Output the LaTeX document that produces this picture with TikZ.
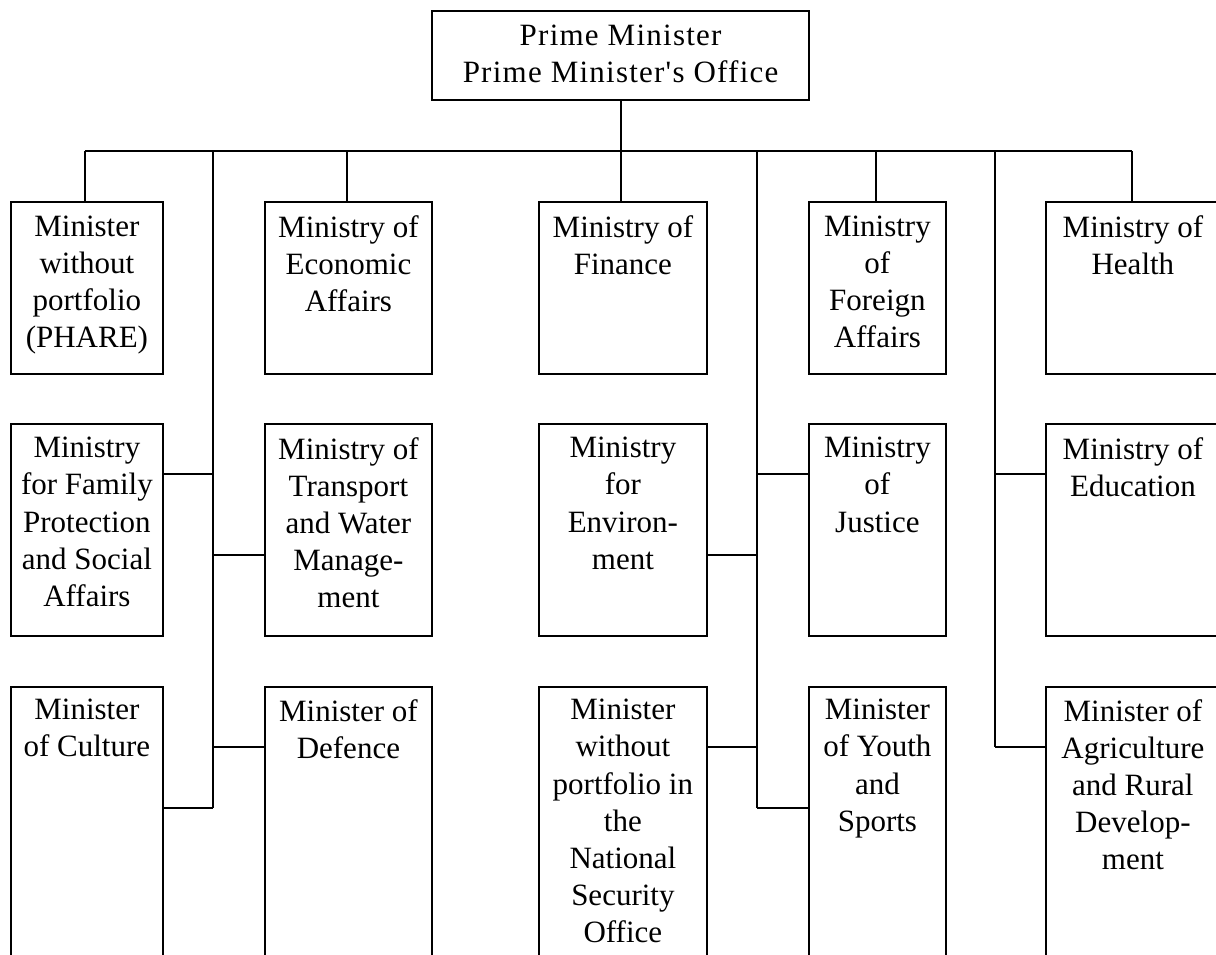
\documentclass[tikz,border=0pt]{standalone}
\usepackage{fontspec}
\setmainfont{Liberation Serif}
\newfontfamily\pmfont{Liberation Serif}[Ligatures=TeXOff,LetterSpace=4]
\begin{document}
\begin{tikzpicture}[x=1pt,y=-1pt,
  box/.style={draw, line width=1.8pt, inner sep=0pt, anchor=north west},
  topbox/.style={draw, line width=2.2pt, inner sep=0pt, anchor=north west},
  lbl/.style={anchor=north, inner sep=0pt, align=center, font=\fontsize{31}{37.2}\selectfont},
  pmlbl/.style={anchor=north, inner sep=0pt, align=center, font=\pmfont\fontsize{31}{37}\selectfont},
  conn/.style={line width=1.8pt}]
\useasboundingbox (0,0) rectangle (1216,954);
\clip (0,0) rectangle (1216,954);
\fill[white] (0,0) rectangle (1216,954);

% top box
\node[topbox, minimum width=377pt, minimum height=89pt] (pm) at (431,10) {};
\node[pmlbl] (pmt) at ([yshift=-15pt]pm.north) {Prime Minister\\Prime Minister's Office};

% row 1
\node[box, minimum width=152pt, minimum height=172pt] (b11) at (10,201) {};
\node[box, minimum width=167pt, minimum height=172pt] (b12) at (264,201) {};
\node[box, minimum width=168pt, minimum height=172pt] (b13) at (538,201) {};
\node[box, minimum width=137pt, minimum height=172pt] (b14) at (808,201) {};
\node[box, minimum width=174pt, minimum height=172pt] (b15) at (1045,201) {};
% row 2
\node[box, minimum width=152pt, minimum height=212pt] (b21) at (10,423) {};
\node[box, minimum width=167pt, minimum height=212pt] (b22) at (264,423) {};
\node[box, minimum width=168pt, minimum height=212pt] (b23) at (538,423) {};
\node[box, minimum width=137pt, minimum height=212pt] (b24) at (808,423) {};
\node[box, minimum width=174pt, minimum height=212pt] (b25) at (1045,423) {};
% row 3
\node[box, minimum width=152pt, minimum height=300pt] (b31) at (10,686) {};
\node[box, minimum width=167pt, minimum height=300pt] (b32) at (264,686) {};
\node[box, minimum width=168pt, minimum height=300pt] (b33) at (538,686) {};
\node[box, minimum width=137pt, minimum height=300pt] (b34) at (808,686) {};
\node[box, minimum width=174pt, minimum height=300pt] (b35) at (1045,686) {};

% labels
\node[lbl] (t11) at ([yshift=-14.5pt]b11.north) {Minister\\without\\portfolio\\(PHARE)};
\node[lbl] (t12) at ([yshift=-14.5pt]b12.north) {Ministry of\\Economic\\Affairs};
\node[lbl] (t13) at ([yshift=-14.5pt]b13.north) {Ministry of\\Finance};
\node[lbl] (t14) at ([yshift=-14.5pt]b14.north) {Ministry\\of\\Foreign\\Affairs};
\node[lbl] (t15) at ([yshift=-14.5pt]b15.north) {Ministry of\\Health};
\node[lbl] (t21) at ([yshift=-14pt]b21.north) {Ministry\\for Family\\Protection\\and Social\\Affairs};
\node[lbl] (t22) at ([yshift=-14pt]b22.north) {Ministry of\\Transport\\and Water\\Manage-\\ment};
\node[lbl] (t23) at ([yshift=-14pt]b23.north) {Ministry\\for\\Environ-\\ment};
\node[lbl] (t24) at ([yshift=-14pt]b24.north) {Ministry\\of\\Justice};
\node[lbl] (t25) at ([yshift=-14pt]b25.north) {Ministry of\\Education};
\node[lbl] (t31) at ([yshift=-13pt]b31.north) {Minister\\of Culture};
\node[lbl] (t32) at ([yshift=-13pt]b32.north) {Minister of\\Defence};
\node[lbl] (t33) at ([yshift=-13pt]b33.north) {Minister\\without\\portfolio in\\the\\National\\Security\\Office};
\node[lbl] (t34) at ([yshift=-13pt]b34.north) {Minister\\of Youth\\and\\Sports};
\node[lbl] (t35) at ([yshift=-13pt]b35.north) {Minister of\\Agriculture\\and Rural\\Develop-\\ment};

% junction coordinates
\coordinate (busL) at (85,151);
\coordinate (busR) at (1132,151);
\coordinate (pmJ) at (621,151);
\coordinate (d2) at (347,151);
\coordinate (d4) at (876,151);
\coordinate (tA) at (213,151);
\coordinate (tB) at (757,151);
\coordinate (tC) at (995,151);
\coordinate (jA474) at (213,474);
\coordinate (jA555) at (213,555);
\coordinate (jA747) at (213,747);
\coordinate (jA808) at (213,808);
\coordinate (jB474) at (757,474);
\coordinate (jB555) at (757,555);
\coordinate (jB747) at (757,747);
\coordinate (jB808) at (757,808);
\coordinate (jC474) at (995,474);
\coordinate (jC747) at (995,747);

% connectors
\draw[conn] (busL) -- (busR);
\draw[conn] (pm.south -| pmJ) -- (b13.north -| pmJ);
\draw[conn] (busL) -- (b11.north -| busL);
\draw[conn] (d2) -- (b12.north -| d2);
\draw[conn] (d4) -- (b14.north -| d4);
\draw[conn] (busR) -- (b15.north -| busR);
\draw[conn] (tA) -- (jA808);
\draw[conn] (tB) -- (jB808);
\draw[conn] (tC) -- (jC747);
\draw[conn] (b21.east |- jA474) -- (jA474);
\draw[conn] (jA555) -- (b22.west |- jA555);
\draw[conn] (b23.east |- jB555) -- (jB555);
\draw[conn] (jB474) -- (b24.west |- jB474);
\draw[conn] (jC474) -- (b25.west |- jC474);
\draw[conn] (jA747) -- (b32.west |- jA747);
\draw[conn] (b31.east |- jA808) -- (jA808);
\draw[conn] (b33.east |- jB747) -- (jB747);
\draw[conn] (jB808) -- (b34.west |- jB808);
\draw[conn] (jC747) -- (b35.west |- jC747);
\end{tikzpicture}
\end{document}
